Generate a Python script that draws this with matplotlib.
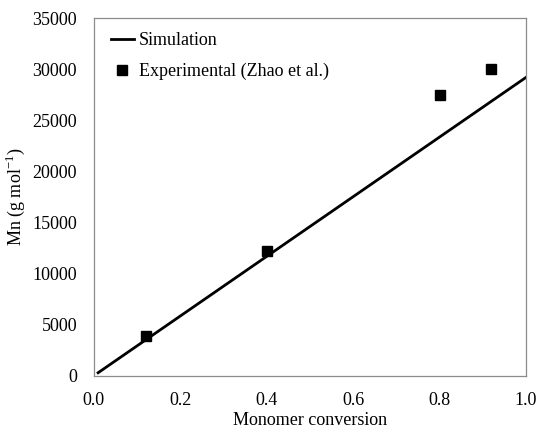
import matplotlib
matplotlib.use("Agg")
import matplotlib.pyplot as plt

# ===== DATA =====
sim_x = [0.01, 1.0]
sim_y = [300, 29200]

exp_x = [0.12, 0.40, 0.80, 0.92]
exp_y = [3900, 12200, 27500, 30000]

plt.rcParams['font.family'] = ['Liberation Serif', 'DejaVu Serif']
plt.rcParams['mathtext.fontset'] = 'custom'
plt.rcParams['mathtext.rm'] = 'Liberation Serif'

# ===== PLOT =====
fig = plt.figure(figsize=(5.39, 4.30), dpi=100)
ax = fig.add_axes([0.174, 0.126, 0.802, 0.832])

ax.plot(sim_x, sim_y, color='black', linewidth=2.0, label='Simulation')
ax.plot(exp_x, exp_y, linestyle='none', marker='s', markersize=7.2,
        color='black', label='Experimental (Zhao et al.)')

ax.set_xlim(0, 1.0)
ax.set_ylim(0, 35000)
ax.set_xticks([0.0, 0.2, 0.4, 0.6, 0.8, 1.0])
ax.set_xticklabels(['0.0', '0.2', '0.4', '0.6', '0.8', '1.0'])
ax.set_yticks(range(0, 35001, 5000))

ax.tick_params(length=0, labelsize=13, pad=12)
for s in ax.spines.values():
    s.set_color('#8c8c8c')
    s.set_linewidth(0.9)

ax.set_xlabel('Monomer conversion', fontsize=13, labelpad=1.5)
ax.set_ylabel(r'Mn (g mol$^{\mathregular{-1}}$)', fontsize=13, labelpad=4)

ax.legend(loc='upper left', frameon=False, fontsize=13, handlelength=1.3,
          handletextpad=0.25, labelspacing=0.75, borderaxespad=0.3,
          bbox_to_anchor=(0.01, 0.995))

plt.savefig('out.png', dpi=100)
